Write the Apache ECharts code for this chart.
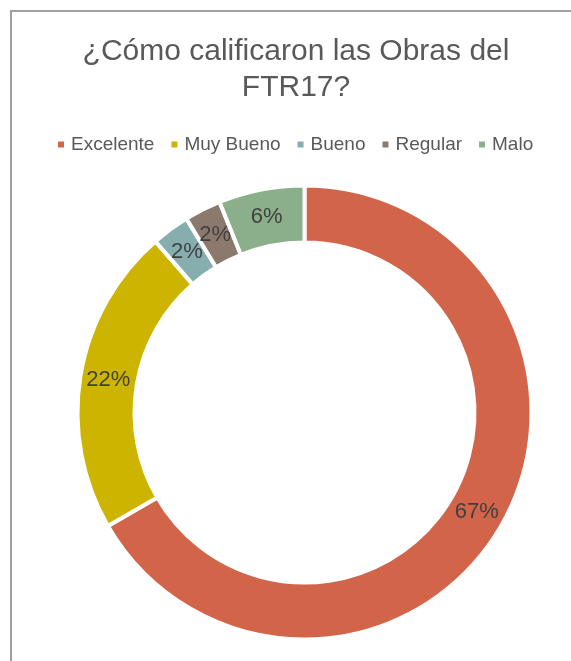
<!DOCTYPE html>
<html>
<head>
<meta charset="utf-8">
<script src="https://cdn.jsdelivr.net/npm/echarts@6/dist/echarts.min.js"></script>
<style>
  html, body { margin: 0; padding: 0; background: #fff; }
  #main { width: 571px; height: 661px; }
</style>
</head>
<body>
<div id="main"></div>
<script>
// categories and slice shares, plus the printed labels
var categories = ['Excelente', 'Muy Bueno', 'Bueno', 'Regular', 'Malo']
var shares = [66.6, 21.9, 2.7, 2.6, 6.1]
var pctLabels = ['67%', '22%', '2%', '2%', '6%']
var colors = ['#D2644A', '#CDB400', '#87AEAF', '#8C796D', '#8BAF8B']

var chart = echarts.init(document.getElementById('main'))
var font = '"Liberation Sans", Arial, sans-serif'

var pieData = categories.map(function (name, i) {
  return { name: name, value: shares[i] }
})

var option = {
  animation: false,
  color: colors,
  title: {
    text: '¿Cómo calificaron las Obras del\nFTR17?',
    left: 291,
    top: 29,
    textAlign: 'center',
    textStyle: {
      fontFamily: font,
      fontSize: 30,
      fontWeight: 'normal',
      color: '#595959',
      lineHeight: 36
    }
  },
  legend: {
    data: categories,
    left: 51,
    top: 130,
    icon: 'rect',
    itemWidth: 8,
    itemHeight: 8,
    itemGap: 15,
    textStyle: {
      fontFamily: font,
      fontSize: 19,
      color: '#595959',
      padding: [0, 0, 0, 1]
    }
  },
  graphic: [
    {
      type: 'rect',
      shape: { x: 11, y: 11, width: 700, height: 700 },
      style: { fill: 'none', stroke: '#A0A0A0', lineWidth: 2 },
      silent: true
    }
  ],
  series: [
    {
      type: 'pie',
      center: [304.5, 412.5],
      radius: [170, 227],
      startAngle: 90,
      clockwise: true,
      itemStyle: { borderColor: '#fff', borderWidth: 4 },
      label: { show: false },
      labelLine: { show: false },
      emphasis: { disabled: true },
      data: pieData
    },
    {
      // same slices, transparent, only to place the labels a bit further in
      type: 'pie',
      center: [304.5, 412.5],
      radius: [165, 227],
      startAngle: 90,
      clockwise: true,
      silent: true,
      avoidLabelOverlap: false,
      labelLayout: { hideOverlap: false },
      itemStyle: { color: 'rgba(0,0,0,0)', borderWidth: 0 },
      label: {
        show: true,
        position: 'inside',
        fontFamily: font,
        fontSize: 22,
        color: '#404040',
        padding: [8, 0, 0, 0],
        formatter: function (p) { return pctLabels[p.dataIndex] }
      },
      labelLine: { show: false },
      emphasis: { disabled: true },
      data: pieData
    }
  ]
}
chart.setOption(option)
</script>
</body>
</html>
